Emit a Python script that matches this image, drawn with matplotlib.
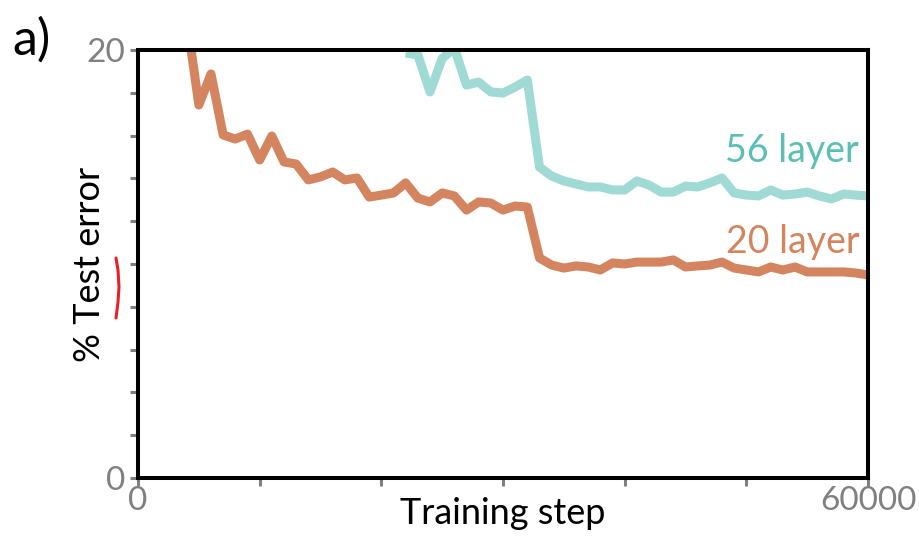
import numpy as np
import matplotlib
matplotlib.use("Agg")
import matplotlib.pyplot as plt
from matplotlib.lines import Line2D

plt.rcParams['font.family'] = ['Lato', 'DejaVu Sans']

# training steps (in thousands) and % test error
steps_20 = list(range(4, 61))
err_20 = [21.5, 17.43, 18.88, 16.03, 15.84, 16.07, 14.86, 15.98, 14.77, 14.67,
          13.93, 14.07, 14.30, 13.93, 14.02, 13.13, 13.22, 13.32, 13.79, 13.08,
          12.90, 13.32, 13.18, 12.52, 12.90, 12.85, 12.52, 12.71, 12.66, 10.28,
          9.95, 9.81, 9.91, 9.86, 9.72, 10.05, 10.00, 10.09, 10.09, 10.09,
          10.19, 9.86, 9.91, 9.95, 10.09, 9.81, 9.72, 9.63, 9.86, 9.72,
          9.86, 9.63, 9.63, 9.63, 9.63, 9.58, 9.49]

steps_56 = list(range(22, 61))
err_56 = [19.86, 19.77, 18.04, 19.6, 20.1, 18.36, 18.50, 18.04, 17.99, 18.27,
          18.60, 14.53, 14.11, 13.88, 13.74, 13.60, 13.60, 13.46, 13.46, 13.88,
          13.69, 13.36, 13.36, 13.64, 13.60, 13.79, 14.02, 13.32, 13.22, 13.18,
          13.46, 13.22, 13.27, 13.36, 13.18, 13.04, 13.27, 13.22, 13.18]

orange = '#D4845F'
teal_line = '#A0DAD4'
teal_text = '#5BBFB3'
gray = '#808080'

fig = plt.figure(figsize=(9.2, 5.38), dpi=100)
ax = fig.add_axes([138/920, 1 - 478/538, 730/920, 428/538])

ax.plot(np.array(steps_20) * 1000, err_20, color=orange, lw=6.5,
        solid_joinstyle='round', solid_capstyle='butt')
ax.plot(np.array(steps_56) * 1000, err_56, color=teal_line, lw=6.5,
        solid_joinstyle='round', solid_capstyle='butt')

ax.set_xlim(0, 60000)
ax.set_ylim(0, 20)

for s in ax.spines.values():
    s.set_linewidth(2.9)
    s.set_color('black')
    s.set_zorder(5)

ax.set_yticks(np.arange(0, 21, 2))
ax.set_yticklabels(['0'] + [''] * 9 + ['20'])
ax.set_xticks(np.arange(0, 60001, 10000))
ax.set_xticklabels(['0'] + [''] * 5 + ['60000'])
ax.tick_params(axis='both', direction='out', length=6, width=2.2, color=gray,
               labelcolor=gray, labelsize=24)
ax.tick_params(axis='y', pad=3)
ax.tick_params(axis='x', pad=0)

ax.set_xlabel('Training step', fontsize=26, color='black')
ax.xaxis.set_label_coords(0.5, -0.045)
ax.set_ylabel('% Test error', fontsize=26, color='black')
ax.yaxis.set_label_coords(-0.044, 0.5)

ax.text(0.988, 0.765, '56 layer', transform=ax.transAxes, ha='right',
        va='center', fontsize=27, color=teal_text)
ax.text(0.988, 0.552, '20 layer', transform=ax.transAxes, ha='right',
        va='center', fontsize=27, color=orange)

fig.text(12/920, 1 - 40/538, 'a)', fontsize=36, color='black', va='center')

# red pen mark under "Test"
fig.add_artist(Line2D([116/920, 118/920, 119/920, 118/920, 116/920],
                      [1 - 258/538, 1 - 270/538, 1 - 287/538, 1 - 302/538, 1 - 318/538],
                      color='#E8202A', lw=2.2, solid_capstyle='round'))

fig.savefig('out.png', dpi=100)
